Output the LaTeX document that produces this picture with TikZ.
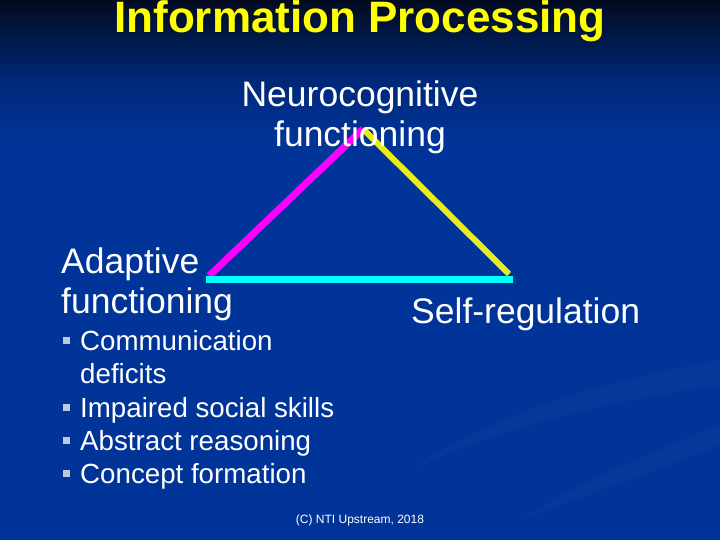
\documentclass[tikz,border=0pt]{standalone}
\usepackage{fontspec}
\setmainfont{Liberation Sans}
\definecolor{bgtop}{RGB}{2,10,32}
\definecolor{bgmid}{RGB}{0,40,120}
\definecolor{bgmain}{RGB}{0,52,152}
\definecolor{titleyellow}{RGB}{255,255,0}
\definecolor{lmag}{RGB}{255,0,255}
\definecolor{lyel}{RGB}{232,236,24}
\definecolor{lcyan}{RGB}{0,255,255}
\definecolor{bulletc}{RGB}{190,200,228}
\begin{document}
\begin{tikzpicture}[x=1pt,y=-1pt,
  lbl/.style={text=white,font=\fontsize{35.5}{40}\selectfont,align=center,inner sep=0pt},
  blt/.style={text=white,font=\fontsize{27.7}{33.5}\selectfont,anchor=base west,inner sep=0pt},
  sq/.style={fill=bulletc,draw=none},
  edge/.style={line width=7pt,line cap=butt}]
\useasboundingbox (0,0) rectangle (720,540);
% background
\fill[bgmain] (0,0) rectangle (720,540);
\shade[top color=bgtop,bottom color=bgmid] (0,0) rectangle (720,80);
\shade[top color=bgmid,bottom color=bgmain] (0,79.5) rectangle (720,140);
% faint swooshes
\fill[white,opacity=0.025] (410,470) .. controls (520,400) and (620,380) .. (720,360) -- (720,385) .. controls (620,400) and (520,420) .. (410,470) -- cycle;
\fill[white,opacity=0.025] (520,520) .. controls (600,470) and (660,450) .. (720,425) -- (720,445) .. controls (660,470) and (600,490) .. (520,520) -- cycle;
% title
\node[text=titleyellow,font=\fontsize{44}{48}\selectfont\bfseries,anchor=base,inner sep=0pt] (title) at (360,32.5) {Information Processing};
% triangle vertices
\coordinate (A) at (209,276);
\coordinate (N) at (363,129);
\coordinate (S) at (509,274);
\coordinate (B1) at (206,279.5);
\coordinate (B2) at (513,279.5);
\draw[edge,lmag] (A) -- (N);
\draw[edge,lyel,line width=6pt] (N) -- (S);
\draw[edge,lcyan] (B1) -- (B2);
% labels
\node[lbl,anchor=base] (neuro) at (360,147) {Neurocognitive\\functioning};
\node[lbl,anchor=base west,align=left] (adapt) at (61,313) {Adaptive\\functioning};
\node[lbl,anchor=base west] (self) at (411,323) {Self-regulation};
% bullets
\node[blt] (b1) at (80,350) {Communication};
\node[blt] (b1b) at (80,383) {deficits};
\node[blt] (b2) at (80,417) {Impaired social skills};
\node[blt] (b3) at (80,450) {Abstract reasoning};
\node[blt] (b4) at (80,483) {Concept formation};
\foreach \y in {350,417,450,483} \fill[sq] (63,\y-13) rectangle (69.5,\y-6.5);
% footer
\node[text=white,font=\fontsize{12}{14}\selectfont,anchor=base,inner sep=0pt] (foot) at (360,523) {(C) NTI Upstream, 2018};
\end{tikzpicture}
\end{document}
